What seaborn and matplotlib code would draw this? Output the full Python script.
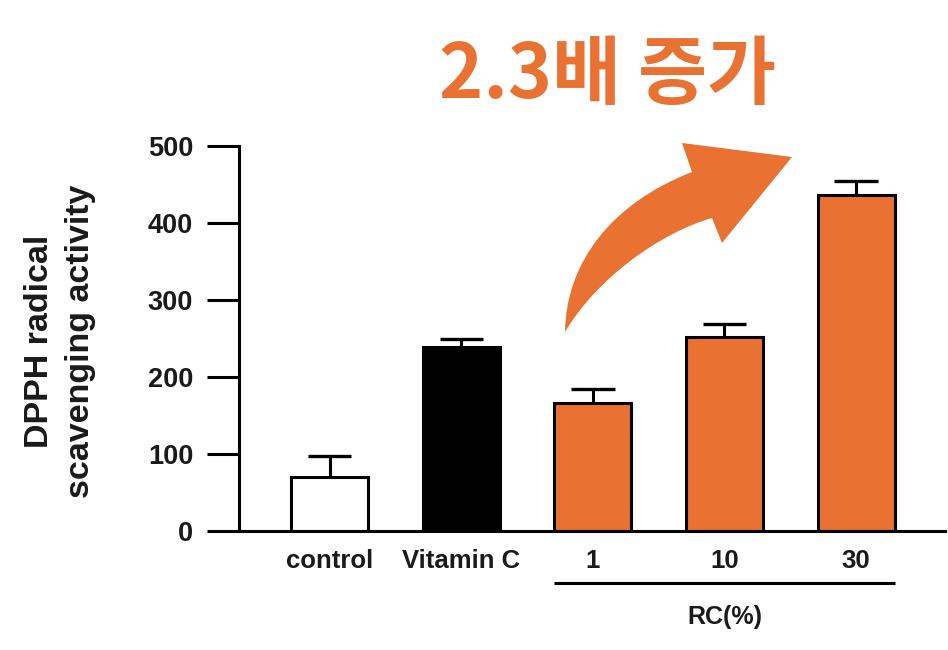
import matplotlib
matplotlib.use("Agg")
import matplotlib.pyplot as plt
import matplotlib.transforms as mtransforms
from matplotlib.path import Path
from matplotlib.patches import PathPatch
import seaborn as sns
import numpy as np

# ---- data ----
categories = ["control", "Vitamin C", "1", "10", "30"]
values = [70, 239, 166, 252, 436]
errors = [27, 10, 18, 17, 18]
bar_colors = ["#FFFFFF", "#000000", "#E97132", "#E97132", "#E97132"]
yticks = [0, 100, 200, 300, 400, 500]
title_text = "2.3배 증가"
ylabel_text = "DPPH radical\nscavenging activity"
group_label = "RC(%)"

ORANGE = "#E97132"

sns.set_style("white")
plt.rcParams["font.family"] = ["Liberation Sans", "Noto Sans CJK KR", "DejaVu Sans"]
plt.rcParams["font.weight"] = "bold"

W, H = 948, 650
fig = plt.figure(figsize=(W / 100, H / 100), dpi=100)
ax = fig.add_axes([239 / W, 1 - 531 / H, (945 - 239) / W, (531 - 146) / H])

sns.barplot(x=categories, y=values, hue=categories, palette=bar_colors,
            edgecolor="black", linewidth=2.2, width=0.585, legend=False,
            saturation=1, ax=ax)

xpos = np.arange(len(categories))
tops = np.array(values) + np.array(errors)
ax.vlines(xpos, values, tops, color="black", lw=2.2, zorder=3)
ax.hlines(tops, xpos - 0.165, xpos + 0.165, color="black", lw=2.4, zorder=3)

ax.set_xlim(-0.69, 4.676)
ax.set_ylim(0, 500)
ax.set_yticks(yticks)
ax.set_yticklabels([str(t) for t in yticks])
ax.set_xlabel("")
ax.set_ylabel("")

for s in ["top", "right"]:
    ax.spines[s].set_visible(False)
for s in ["left", "bottom"]:
    ax.spines[s].set_linewidth(2.2)
    ax.spines[s].set_color("black")

ax.tick_params(axis="y", length=23, width=2.2, pad=10, labelsize=19.5,
               left=True, color="black")
ax.tick_params(axis="x", length=0, pad=13, labelsize=18.5)
for lab in ax.get_xticklabels() + ax.get_yticklabels():
    lab.set_fontweight("bold")
    lab.set_color("#1a1a1a")

# group bracket
trans = mtransforms.blended_transform_factory(ax.transData, ax.transAxes)
ax.plot([2 - 0.2925, 4 + 0.2925], [-0.135, -0.135], transform=trans,
        color="black", lw=2.2, clip_on=False, solid_capstyle="butt")
ax.text(3, -0.223, group_label, transform=trans, ha="center", va="center",
        fontsize=18, fontweight="bold", color="#1a1a1a")

# y label
fig.text(60 / W, 1 - 341 / H, ylabel_text, rotation=90, ha="center", va="center",
         multialignment="center", fontsize=24.5, fontweight="bold",
         color="#1a1a1a", linespacing=1.38)

# title
fig.text(608 / W, 1 - 76 / H, title_text, ha="center", va="center",
         fontsize=54, fontweight="bold", color=ORANGE,
         family=["Noto Sans CJK KR", "DejaVu Sans"])

# curved arrow (annotation shape, in figure pixels)
def px(x, y):
    return (x / W, 1 - y / H)

verts = [px(565, 332),
         px(566, 262), px(612, 203), px(692, 172),
         px(682, 143),
         px(792, 157),
         px(722, 243),
         px(712, 218),
         px(660, 233), px(597, 278), px(565, 332),
         px(565, 332)]
codes = [Path.MOVETO,
         Path.CURVE4, Path.CURVE4, Path.CURVE4,
         Path.LINETO, Path.LINETO, Path.LINETO, Path.LINETO,
         Path.CURVE4, Path.CURVE4, Path.CURVE4,
         Path.CLOSEPOLY]
arrow = PathPatch(Path(verts, codes), facecolor=ORANGE, edgecolor="none",
                  transform=fig.transFigure, zorder=5)
fig.patches.append(arrow)

fig.savefig("out.png", dpi=100, facecolor="white")
